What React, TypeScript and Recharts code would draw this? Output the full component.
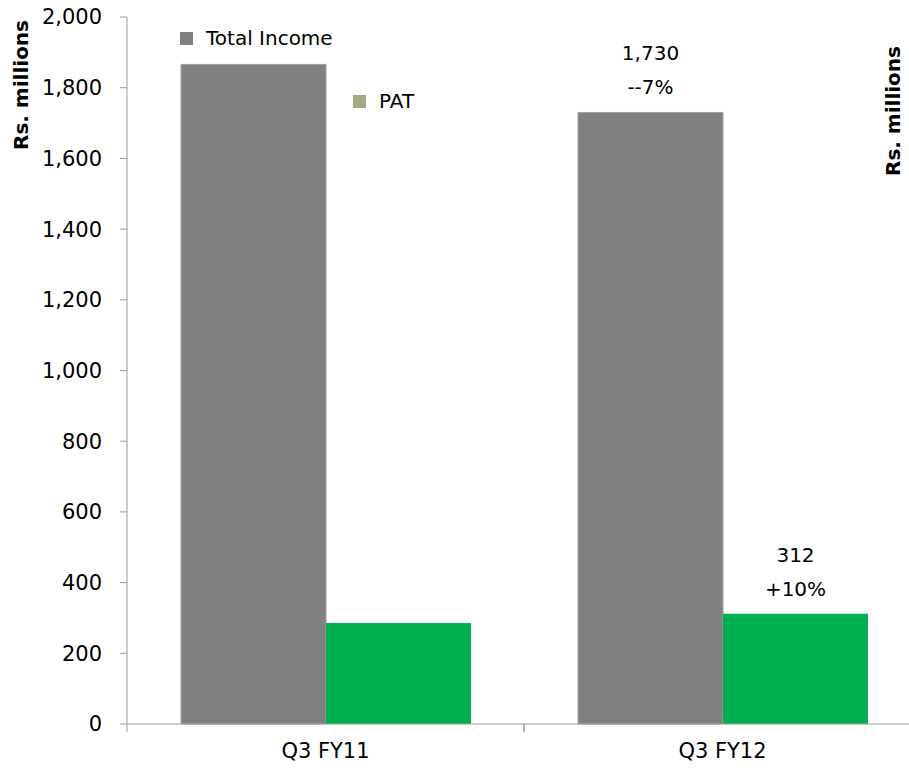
import React from 'react';
import { BarChart, Bar, XAxis, YAxis, Legend, LabelList } from 'recharts';

const CATEGORIES = ['Q3 FY11', 'Q3 FY12'];
const TOTAL_INCOME = [1866, 1730];
const PAT = [286, 312];
const TOTAL_LABELS = ['', '1,730'];
const TOTAL_CHANGE = ['', '--7%'];
const PAT_LABELS = ['', '312'];
const PAT_CHANGE = ['', '+10%'];
const Y_TICKS = [0, 200, 400, 600, 800, 1000, 1200, 1400, 1600, 1800, 2000];
const SERIES_NAMES = ['Total Income', 'PAT'];
const LEGEND_COLORS = ['#808080', '#A2AA80'];

const FONT = '"DejaVu Sans", sans-serif';
const AXIS = '#9A9A9A';
const X_TICK_SIZE = 8;
const X_TICK_MARGIN = 11;

const data = CATEGORIES.map((name, i) => ({
  name,
  total: TOTAL_INCOME[i],
  pat: PAT[i],
}));

const twoLineLabel = (top: string[], bottom: string[]) => (props: any) => {
  const { x, y, width, index } = props;
  if (!top[index]) return null;
  const cx = Number(x) + Number(width) / 2;
  return (
    <g>
      <text x={cx} y={Number(y) - 59} textAnchor="middle" dominantBaseline="central" fontSize={20} fill="#000">
        {top[index]}
      </text>
      <text x={cx} y={Number(y) - 25} textAnchor="middle" dominantBaseline="central" fontSize={20} fill="#000">
        {bottom[index]}
      </text>
    </g>
  );
};

// category label plus tick marks on the band edges (original ticks sit between categories)
const CategoryTick = (props: any) => {
  const { x, y, payload } = props;
  const half = Number(payload?.offset ?? 0);
  const axisY = Number(y) - X_TICK_SIZE - X_TICK_MARGIN;
  return (
    <g>
      <line x1={x - half} x2={x - half} y1={axisY} y2={axisY + X_TICK_SIZE} stroke={AXIS} />
      <line x1={x + half} x2={x + half} y1={axisY} y2={axisY + X_TICK_SIZE} stroke={AXIS} />
      <text x={x} y={y} dy="0.71em" textAnchor="middle" fontSize={21} fill="#000">
        {payload.value}
      </text>
    </g>
  );
};

// legend items sit at odd spots in the original, so place them by hand
const LEGEND_POS = [
  { left: 180, top: 26 },
  { left: 353, top: 89 },
];

const CustomLegend = () => (
  <div style={{ position: 'relative', height: 0 }}>
    {SERIES_NAMES.map((name, i) => (
      <div
        key={name}
        style={{
          position: 'absolute',
          left: LEGEND_POS[i].left,
          top: LEGEND_POS[i].top,
          display: 'flex',
          alignItems: 'center',
          whiteSpace: 'nowrap',
          fontSize: 20,
          color: '#000',
        }}
      >
        <span style={{ display: 'inline-block', width: 13, height: 13, background: LEGEND_COLORS[i], marginRight: 13 }} />
        {name}
      </div>
    ))}
  </div>
);

const LeftLabel = () => {
  const cx = 21;
  const cy = 85;
  return (
    <text x={cx} y={cy} transform={`rotate(-90, ${cx}, ${cy})`} textAnchor="middle" dominantBaseline="central" fontSize={20} fontWeight="bold" fill="#000">
      Rs. millions
    </text>
  );
};

export default function App() {
  return (
    <div style={{ position: 'absolute', left: 0, top: 0, width: 909, height: 768, overflow: 'hidden', background: '#fff', fontFamily: FONT }}>
      <BarChart
        width={921}
        height={768}
        data={data}
        margin={{ top: 17, right: 0, left: 0, bottom: 0 }}
        barCategoryGap={54}
        barGap={0}
        style={{ fontFamily: FONT }}
      >
        <XAxis
          dataKey="name"
          axisLine={{ stroke: AXIS }}
          tickLine={false}
          tickSize={X_TICK_SIZE}
          tickMargin={X_TICK_MARGIN}
          tick={<CategoryTick />}
          height={44}
        />
        <YAxis
          domain={[0, 2000]}
          ticks={Y_TICKS}
          width={127}
          tickSize={7}
          tickMargin={18}
          axisLine={{ stroke: AXIS }}
          tickLine={{ stroke: AXIS }}
          tick={{ fill: '#000', fontSize: 21 }}
          tickFormatter={(v) => Number(v).toLocaleString('en-US')}
          label={<LeftLabel />}
        />
        <Legend verticalAlign="top" wrapperStyle={{ position: 'absolute', left: 0, top: 0, width: 909 }} content={<CustomLegend />} />
        <Bar dataKey="total" name={SERIES_NAMES[0]} fill="#808080" stroke="#A0A0A0" strokeWidth={1} isAnimationActive={false}>
          <LabelList dataKey="total" content={twoLineLabel(TOTAL_LABELS, TOTAL_CHANGE)} />
        </Bar>
        <Bar dataKey="pat" name={SERIES_NAMES[1]} fill="#00B050" isAnimationActive={false}>
          <LabelList dataKey="pat" content={twoLineLabel(PAT_LABELS, PAT_CHANGE)} />
        </Bar>
      </BarChart>
      <div
        style={{
          position: 'absolute',
          left: 893,
          top: 111,
          transform: 'translate(-50%, -50%) rotate(-90deg)',
          fontSize: 20,
          fontWeight: 'bold',
          whiteSpace: 'nowrap',
          color: '#000',
        }}
      >
        Rs. millions
      </div>
    </div>
  );
}
